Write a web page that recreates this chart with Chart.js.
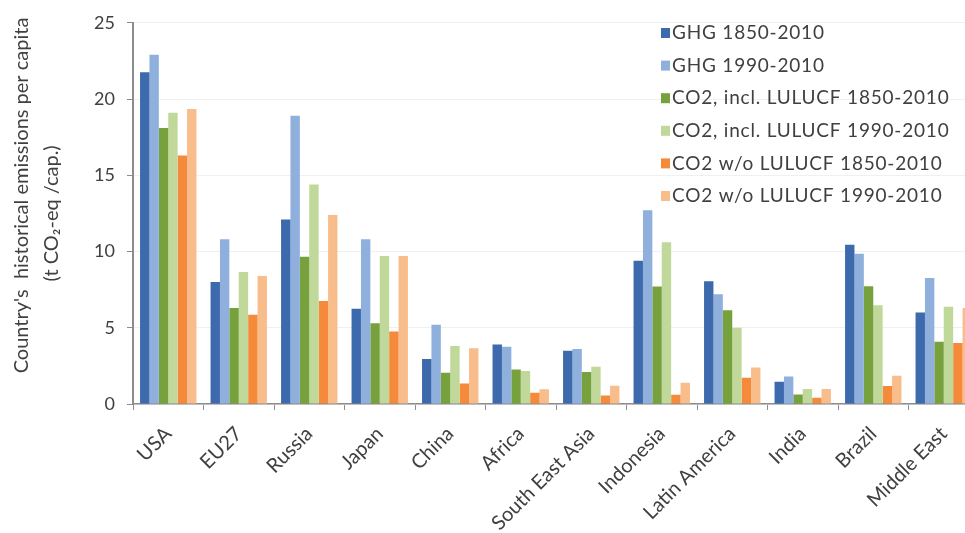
<!DOCTYPE html>
<html>
<head>
<meta charset="utf-8">
<script src="https://cdn.jsdelivr.net/npm/chart.js@4"></script>
<style>
  html, body { margin: 0; padding: 0; background: #fff; overflow: hidden; }
  #wrap { width: 980px; height: 533px; }
</style>
</head>
<body>
<div id="wrap"><canvas id="chart" width="980" height="533"></canvas></div>
<script>
// DATA
const regions = ["USA", "EU27", "Russia", "Japan", "China", "Africa", "South East Asia",
  "Indonesia", "Latin America", "India", "Brazil", "Middle East"];
const ghg1850 = [21.75, 8.0, 12.1, 6.25, 2.95, 3.9, 3.5, 9.4, 8.05, 1.46, 10.45, 6.0];
const ghg1990 = [22.9, 10.8, 18.9, 10.8, 5.2, 3.75, 3.6, 12.7, 7.2, 1.8, 9.86, 8.27];
const co2Incl1850 = [18.1, 6.3, 9.65, 5.3, 2.05, 2.27, 2.1, 7.7, 6.15, 0.63, 7.72, 4.08];
const co2Incl1990 = [19.1, 8.65, 14.4, 9.7, 3.8, 2.16, 2.45, 10.6, 5.0, 0.98, 6.48, 6.37];
const co2Wo1850 = [16.3, 5.85, 6.75, 4.75, 1.35, 0.74, 0.55, 0.6, 1.72, 0.41, 1.18, 4.0];
const co2Wo1990 = [19.35, 8.4, 12.4, 9.7, 3.65, 0.96, 1.2, 1.4, 2.4, 0.98, 1.85, 6.3];
const yTicks = [0, 5, 10, 15, 20, 25];

const seriesNames = ["GHG 1850-2010", "GHG 1990-2010", "CO2, incl. LULUCF 1850-2010",
  "CO2, incl. LULUCF 1990-2010", "CO2 w/o LULUCF 1850-2010", "CO2 w/o LULUCF 1990-2010"];
const seriesColors = ["#3d69ad", "#8fb0dc", "#77a13d", "#c0d89a", "#f48a3a", "#f9bd8c"];
const seriesData = [ghg1850, ghg1990, co2Incl1850, co2Incl1990, co2Wo1850, co2Wo1990];

const textColor = "#404040";
const axisColor = "#8c8c8c";

// legend drawn inside the plot area, top right
const insideLegend = {
  id: "insideLegend",
  afterDraw(chart) {
    const c = chart.ctx;
    c.save();
    c.font = "19px Lato";
    c.letterSpacing = "0.8px";
    c.textBaseline = "middle";
    chart.data.datasets.forEach((ds, i) => {
      const y = 33 + i * 32.6;
      c.fillStyle = ds.backgroundColor;
      c.fillRect(661, y - 5, 9, 10);
      c.fillStyle = textColor;
      c.fillText(ds.label, 672, y);
    });
    c.restore();
  },
};

new Chart(document.getElementById("chart"), {
  type: "bar",
  data: {
    labels: regions,
    datasets: seriesData.map((d, i) => ({
      label: seriesNames[i],
      data: d,
      backgroundColor: seriesColors[i],
      categoryPercentage: 0.8,
      barPercentage: 1.0,
    })),
  },
  options: {
    responsive: false,
    animation: false,
    layout: { padding: { top: 22, right: 1, left: 0, bottom: 0 } },
    plugins: { legend: { display: false }, tooltip: { enabled: false } },
    scales: {
      x: {
        grid: { drawOnChartArea: false, tickLength: 6, tickColor: axisColor, offset: true },
        border: { color: axisColor, width: 1.5 },
        ticks: {
          color: textColor, font: { family: "Lato", size: 20 },
          minRotation: 45, maxRotation: 45, padding: 12, autoSkip: false,
        },
        afterFit(scale) { scale.height = 129; },
      },
      y: {
        min: 0, max: 25,
        afterBuildTicks(scale) { scale.ticks = yTicks.map(v => ({ value: v })); },
        grid: { color: "#f0f0f0", tickLength: 6, tickColor: axisColor },
        border: { color: axisColor, width: 2 },
        ticks: { color: textColor, font: { family: "Lato", size: 18 }, padding: 12 },
        title: {
          display: true,
          // leading spaces nudge the first line up a little, like the original
          text: ["       Country's  historical emissions per capita", "(t CO\u2082-eq /cap.)"],
          color: textColor,
          font: { family: "Lato", size: 20, lineHeight: 1.5 },
          padding: { top: 7, bottom: 0 },
        },
        afterFit(scale) { scale.width = 133; },
      },
    },
  },
  plugins: [insideLegend],
});
</script>
</body>
</html>
